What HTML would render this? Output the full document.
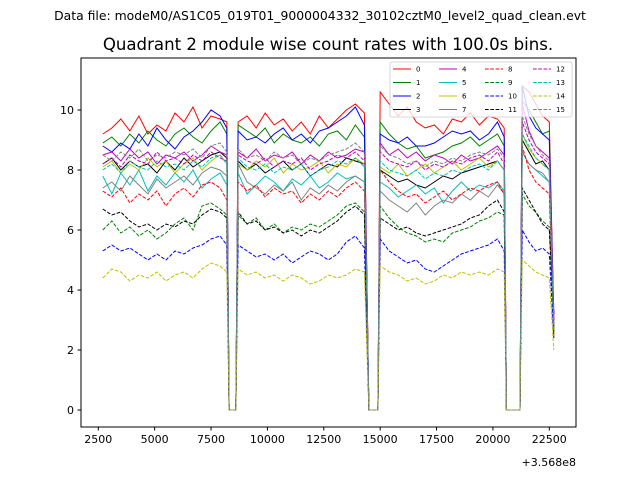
<!DOCTYPE html>
<html><head><meta charset="utf-8">
<style>
html,body{margin:0;padding:0;background:#fff;}
svg{display:block;font-family:"DejaVu Sans","Liberation Sans",sans-serif;}
</style></head>
<body>
<svg id="chart" width="640" height="480" viewBox="0 0 640 480">
<rect x="0" y="0" width="640" height="480" fill="#fff"/>
<text x="320" y="20" font-size="12.4" text-anchor="middle">Data file: modeM0/AS1C05_019T01_9000004332_30102cztM0_level2_quad_clean.evt</text>
<text x="328" y="50" font-size="16.6" text-anchor="middle">Quadrant 2 module wise count rates with 100.0s bins.</text>
<g id="plot"></g>
<g id="axes"></g>
<g id="legend"></g>
<text x="576" y="466" font-size="11" text-anchor="end">+3.568e8</text>
</svg>
<script>
const times = [2700,3100,3500,3900,4300,4700,5100,5500,5900,6300,6700,7100,7500,7900,8200,8300,8600,
8700,9100,9500,9900,10300,10700,11100,11500,11900,12300,12700,13100,13500,13900,14300,14500,14900,
15000,15400,15800,16200,16600,17000,17400,17800,18200,18600,19000,19400,19800,20200,20500,20600,21200,
21300,21600,21900,22200,22500,22700];
const s0 = [9.2,9.4,9.7,9.3,9.8,9.2,9.5,9.3,9.9,9.6,10.1,9.4,9.8,9.7,9.6,0,0,9.6,9.8,9.4,9.9,9.5,9.7,9.3,9.6,9.2,9.8,9.4,9.7,10.0,10.2,9.9,0,0,10.6,10.2,9.8,10.1,9.6,9.4,9.5,9.2,9.7,9.6,9.9,9.5,9.8,9.7,9.4,0,0,10.8,10.6,10.2,9.8,9.6,3.0];
const s1 = [8.9,9.1,8.8,9.2,8.9,9.3,9.0,8.8,9.2,9.4,9.1,8.9,9.3,9.6,9.2,0,0,9.5,9.3,9.1,9.4,8.9,9.2,9.0,8.9,9.1,8.8,9.2,9.3,9.0,9.5,9.1,0,0,9.6,9.2,8.9,8.7,8.8,8.4,8.5,8.6,8.8,8.9,9.1,8.8,9.0,9.2,8.8,0,0,10.3,10.0,9.6,9.2,9.3,2.8];
const s2 = [8.8,8.6,8.9,8.7,9.2,8.8,9.4,9.0,8.7,9.1,9.3,9.6,10.0,9.8,9.4,0,0,9.3,9.0,9.1,8.9,9.2,9.4,9.0,9.2,8.9,9.3,9.4,9.6,9.8,10.1,9.5,0,0,9.2,9.0,8.9,9.1,8.8,8.8,8.9,9.1,9.3,9.2,9.3,9.0,9.2,9.6,9.1,0,0,10.8,9.8,9.4,9.2,9.0,3.2];
const s3 = [8.2,8.4,8.0,8.3,8.1,8.2,7.9,8.3,8.0,8.4,8.1,8.3,8.5,8.6,8.4,0,0,8.3,8.0,8.2,7.9,8.1,8.3,8.0,8.2,7.8,8.0,8.2,8.1,8.4,8.3,8.2,0,0,8.0,7.8,7.6,7.7,7.5,7.4,7.6,7.8,7.7,7.9,8.0,8.1,8.2,8.3,8.0,0,0,9.0,8.6,8.2,8.3,8.0,2.6];
const s4 = [8.5,8.6,8.3,8.7,8.4,8.6,8.2,8.5,8.4,8.6,8.3,8.5,8.8,8.6,8.5,0,0,8.6,8.4,8.7,8.3,8.5,8.4,8.6,8.2,8.5,8.3,8.6,8.4,8.5,8.7,8.6,0,0,8.9,8.5,8.7,8.4,8.6,8.3,8.5,8.4,8.2,8.5,8.3,8.4,8.6,8.8,8.5,0,0,10.2,9.3,8.8,8.6,8.4,3.0];
const s5 = [7.8,7.2,7.9,7.5,8.0,7.3,7.8,7.5,7.9,7.6,8.0,7.4,7.7,7.9,7.5,0,0,7.9,7.2,7.5,7.8,7.6,7.3,7.7,7.5,7.8,7.4,7.6,7.9,7.7,7.8,7.6,0,0,7.6,7.4,7.1,7.3,7.5,7.2,7.4,6.9,7.3,7.6,7.3,7.5,7.4,7.6,7.3,0,0,8.6,8.2,8.0,7.8,7.6,2.7];
const s6 = [8.1,8.3,7.9,8.2,8.0,8.4,8.1,8.3,7.9,8.2,8.4,8.0,8.3,8.5,8.2,0,0,8.2,8.0,8.3,8.1,8.4,7.9,8.2,8.0,8.1,8.3,7.9,8.2,8.1,8.4,8.2,0,0,8.1,7.9,8.2,7.8,8.0,8.2,7.9,8.1,8.3,8.0,8.2,8.4,8.1,8.3,8.0,0,0,9.2,8.7,8.4,8.2,8.0,2.4];
const s7 = [7.4,7.6,7.3,7.8,7.5,7.2,7.7,7.4,7.6,7.8,7.5,7.9,8.1,8.0,7.8,0,0,8.2,7.6,7.4,7.2,7.5,7.3,7.6,7.0,7.4,7.2,7.5,7.3,7.6,7.8,7.6,0,0,7.3,7.0,6.8,6.6,6.9,6.5,6.8,7.0,6.9,7.2,7.0,7.3,7.1,7.5,7.2,0,0,8.6,8.2,8.0,7.9,7.6,2.8];
const s8 = [7.3,7.1,7.4,6.9,7.2,7.0,7.3,6.8,7.2,7.4,7.1,7.5,7.6,7.4,7.0,0,0,7.6,7.3,7.5,7.1,7.4,7.2,7.3,6.9,7.2,7.0,7.3,7.1,7.4,7.6,7.3,0,0,8.0,7.6,7.3,7.1,7.2,6.9,7.1,7.3,7.0,7.2,7.4,7.3,7.5,7.6,7.2,0,0,8.8,8.0,7.6,7.4,7.2,2.5];
const s9 = [6.0,6.3,5.9,6.1,5.8,6.0,5.7,5.9,6.2,6.4,6.0,6.8,6.9,6.7,6.5,0,0,6.5,6.2,6.4,6.0,6.2,5.9,6.1,6.0,6.2,6.1,6.3,6.5,6.8,6.9,6.6,0,0,6.8,6.4,6.1,5.9,5.8,5.6,5.7,5.6,5.9,6.0,6.1,6.3,6.4,6.6,6.5,0,0,7.2,6.8,6.6,6.3,6.1,2.6];
const s10 = [5.3,5.5,5.3,5.4,5.2,5.0,5.2,5.0,5.3,5.2,5.4,5.5,5.7,5.8,5.5,0,0,5.5,5.3,5.1,5.2,5.0,5.2,4.9,5.1,5.3,5.2,5.0,5.2,5.6,5.8,5.4,0,0,5.7,5.3,5.1,4.9,5.0,4.7,4.6,4.8,5.0,5.2,5.3,5.4,5.5,5.7,5.3,0,0,6.0,5.6,5.3,5.4,5.2,2.4];
const s11 = [6.7,6.5,6.6,6.3,6.1,6.2,6.0,6.2,6.1,6.3,6.2,6.5,6.7,6.6,6.4,0,0,6.6,6.2,6.3,6.0,6.1,5.9,6.0,5.8,6.0,5.9,6.1,6.3,6.6,6.8,6.5,0,0,6.4,6.2,6.0,6.1,5.9,5.8,5.9,6.0,6.1,6.2,6.4,6.5,6.8,7.0,6.6,0,0,7.4,7.0,6.6,6.2,6.0,3.2];
const s12 = [8.2,8.4,8.1,8.5,8.3,8.2,8.6,8.3,8.4,8.2,8.5,8.3,8.6,8.4,8.3,0,0,8.5,8.3,8.2,8.4,8.1,8.3,8.2,8.4,8.0,8.2,8.3,8.5,8.4,8.6,8.3,0,0,8.6,8.3,8.2,8.1,8.3,8.0,8.2,8.1,8.3,8.2,8.4,8.5,8.3,8.6,8.2,0,0,9.6,9.0,8.6,8.4,8.2,2.7];
const s13 = [8.0,8.2,7.9,8.3,8.1,8.0,8.3,8.1,8.2,8.0,8.3,8.1,8.4,8.5,8.2,0,0,8.4,8.1,8.0,8.2,7.9,8.1,8.0,8.2,7.8,8.0,8.1,8.3,8.2,8.4,8.1,0,0,8.3,8.0,7.9,7.8,8.0,7.7,7.9,7.8,8.0,7.9,8.1,8.2,8.0,8.3,8.0,0,0,9.2,8.8,8.4,8.2,8.0,2.6];
const s14 = [4.4,4.7,4.6,4.3,4.5,4.4,4.6,4.3,4.5,4.6,4.4,4.7,4.9,4.8,4.6,0,0,4.7,4.5,4.6,4.4,4.5,4.3,4.5,4.4,4.2,4.3,4.5,4.4,4.5,4.7,4.6,0,0,4.8,4.6,4.5,4.3,4.4,4.2,4.3,4.5,4.4,4.6,4.5,4.6,4.5,4.7,4.6,0,0,5.0,4.8,4.6,4.5,4.4,2.0];
const s15 = [8.5,8.3,8.6,8.4,8.7,8.3,8.5,8.4,8.6,8.5,8.7,8.4,8.8,8.9,8.6,0,0,8.7,8.4,8.5,8.3,8.6,8.4,8.5,8.2,8.4,8.3,8.5,8.6,8.7,8.9,8.6,0,0,8.8,8.5,8.4,8.2,8.3,8.1,8.3,8.2,8.4,8.3,8.5,8.6,8.5,8.7,8.4,0,0,9.8,9.2,8.8,8.5,8.3,2.9];
const seriesValues = [s0,s1,s2,s3,s4,s5,s6,s7,s8,s9,s10,s11,s12,s13,s14,s15];
const seriesLabels = ["0","1","2","3","4","5","6","7","8","9","10","11","12","13","14","15"];
const xTicks = [2500,5000,7500,10000,12500,15000,17500,20000,22500];
const yTicks = [0,2,4,6,8,10];

const colors = ["#ff0000","#008000","#0000ff","#000000","#bf00bf","#00bfbf","#bfbf00","#808080"];
const NS = "http://www.w3.org/2000/svg";
const L = 81, R = 576, T = 58, B = 427;
const xMin = 1733, xMax = 23684, yMin = -0.567, yMax = 11.733;
function xs(v){ return L + (v - xMin) / (xMax - xMin) * (R - L); }
function ys(v){ return B - (v - yMin) / (yMax - yMin) * (B - T); }
function mk(tag, attrs, parent){ const e = document.createElementNS(NS, tag); for (const k in attrs) e.setAttribute(k, attrs[k]); parent.appendChild(e); return e; }

const plot = document.getElementById('plot');
const axes = document.getElementById('axes');
const legend = document.getElementById('legend');

seriesValues.forEach((vals, i) => {
  const d = vals.map((v, j) => (j ? 'L' : 'M') + xs(times[j]).toFixed(2) + ' ' + ys(v).toFixed(2)).join(' ');
  const p = mk('path', {d: d, fill: 'none', stroke: colors[i % 8], 'stroke-width': 1}, plot);
  if (i >= 8) p.setAttribute('stroke-dasharray', '3.7,1.6');
  
  
});

const frame = mk('rect', {x: L, y: T, width: R - L, height: B - T, fill: 'none', stroke: '#000', 'stroke-width': 1}, axes);



xTicks.forEach(t => {
  const x = xs(t);
  const tk = mk('line', {x1: x, x2: x, y1: B, y2: B + 3.5, stroke: '#000'}, axes);
  
  
  const tx = mk('text', {x: x, y: B + 16, 'font-size': 11, 'text-anchor': 'middle'}, axes);
  tx.textContent = String(t);
  
  
});
yTicks.forEach(t => {
  const y = ys(t);
  const tk = mk('line', {x1: L - 3.5, x2: L, y1: y, y2: y, stroke: '#000'}, axes);
  
  
  const tx = mk('text', {x: L - 7, y: y + 4, 'font-size': 11, 'text-anchor': 'end'}, axes);
  tx.textContent = String(t);
  
  
});

const lb = mk('rect', {x: 390, y: 62, width: 182, height: 55, rx: 2, fill: '#fff', 'fill-opacity': 0.8, stroke: '#ccc', 'stroke-width': 0.8}, legend);


const colX = [393, 439, 485, 533];
seriesLabels.forEach((lab, i) => {
  const c = Math.floor(i / 4), r = i % 4;
  const y = 69 + r * 13.5;
  const g = mk('g', {}, legend);
  
  
  const ln = mk('line', {x1: colX[c], x2: colX[c] + 18, y1: y, y2: y, stroke: colors[i % 8], 'stroke-width': 1}, g);
  if (i >= 8) ln.setAttribute('stroke-dasharray', '3.7,1.6');
  const tx = mk('text', {x: colX[c] + 23, y: y + 2.4, 'font-size': 7}, g);
  tx.textContent = lab;
});
</script>
</body></html>
